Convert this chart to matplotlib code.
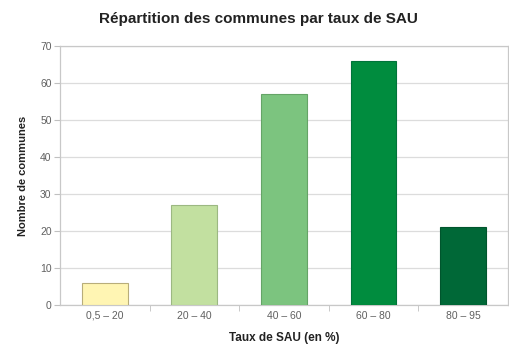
import matplotlib
matplotlib.use("Agg")
import matplotlib.pyplot as plt
import numpy as np

categories = ["0,5 – 20", "20 – 40", "40 – 60", "60 – 80", "80 – 95"]
communes = [6, 27, 57, 66, 21]
colors = ["#fff5b3", "#c2e0a0", "#7cc47f", "#008c3e", "#006837"]
edges = ["#b8ad7a", "#9cb882", "#65a467", "#00733a", "#00552d"]

plt.rcParams["font.family"] = ["Liberation Sans", "DejaVu Sans"]

fig = plt.figure(figsize=(5.10, 3.49), dpi=100)
ax = fig.add_axes([0.1176, 0.126, 0.878, 0.742])

x = np.arange(len(categories))
ax.bar(x, communes, width=0.51, color=colors, edgecolor=edges, linewidth=0.8, zorder=3)

ax.set_xlim(-0.5, len(categories) - 0.5)
ax.set_ylim(0, 70)
ax.set_yticks(np.arange(0, 71, 10))
ax.yaxis.grid(True, color="#dcdcdc", linewidth=0.9, zorder=0)

ax.set_xticks(x)
ax.set_xticklabels(categories)
ax.set_xticks(np.arange(0.5, len(categories) - 0.5, 1), minor=True)
ax.tick_params(axis="x", which="major", length=0, pad=4, labelsize=7.5, labelcolor="#606060")
ax.tick_params(axis="x", which="minor", length=4, color="#c0c0c0")
ax.tick_params(axis="y", length=4, color="#c0c0c0", labelsize=7.5, labelcolor="#606060", pad=2)

for s in ax.spines.values():
    s.set_color("#c8c8c8")
    s.set_linewidth(0.9)

ax.set_xlabel("Taux de SAU (en %)", fontsize=8.5, fontweight="bold", color="#222222", labelpad=8)
ax.set_ylabel("Nombre de communes", fontsize=8, fontweight="bold", color="#222222", labelpad=9)
fig.suptitle("Répartition des communes par taux de SAU", fontsize=11, fontweight="bold",
             color="#222222", x=0.507, y=0.965)

fig.savefig("out.png", dpi=100)
